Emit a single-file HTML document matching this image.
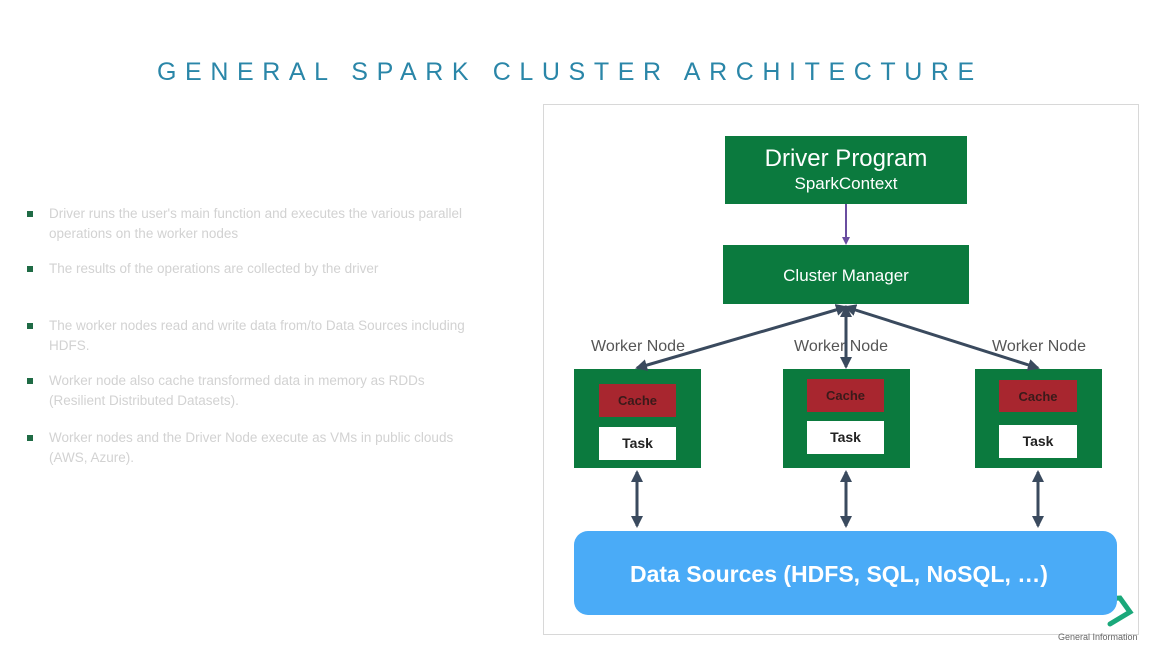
<!DOCTYPE html>
<html><head><meta charset="utf-8"><style>
body{margin:0;width:1152px;height:648px;background:#fff;position:relative;overflow:hidden;font-family:"Liberation Sans",sans-serif}
.a{position:absolute}
.t{position:absolute;left:157px;top:58px;white-space:nowrap;font-size:25px;letter-spacing:8.6px;color:#2a86a8;font-weight:300}
.b{position:absolute;left:27px;width:6px;height:6px;background:#1f6b45}
.bt{position:absolute;left:49px;width:430px;font-size:13.5px;line-height:20px;color:#d2d2d2}
.g{background:#0b7a3e;color:#fff;text-align:center}
.c{background:#a8262f;color:#3a1a1a;font-weight:bold;font-size:13px;text-align:center;line-height:33px}
.k{background:#fff;color:#222;font-weight:bold;font-size:14px;text-align:center;line-height:33px}
.w{font-size:16px;color:#555;width:140px;text-align:center}
</style></head><body>
<div class="t">GENERAL SPARK CLUSTER ARCHITECTURE</div>
<div class="b" style="top:211px"></div><div class="bt" style="top:204px">Driver runs the user's main function and executes the various parallel operations on the worker nodes</div>
<div class="b" style="top:266px"></div><div class="bt" style="top:259px">The results of the operations are collected by the driver</div>
<div class="b" style="top:323px"></div><div class="bt" style="top:316px">The worker nodes read and write data from/to Data Sources including HDFS.</div>
<div class="b" style="top:378px"></div><div class="bt" style="top:371px">Worker node also cache transformed data in memory as RDDs (Resilient Distributed Datasets).</div>
<div class="b" style="top:435px"></div><div class="bt" style="top:428px">Worker nodes and the Driver Node execute as VMs in public clouds (AWS, Azure).</div>

<div class="a" style="left:543px;top:104px;width:594px;height:529px;border:1px solid #d8d8d8"></div>
<div class="a g" style="left:725px;top:136px;width:242px;height:68px"><div style="font-size:24px;margin-top:9px">Driver Program</div><div style="font-size:17px;margin-top:1px">SparkContext</div></div>
<div class="a g" style="left:723px;top:245px;width:246px;height:59px;font-size:17px;line-height:62px">Cluster Manager</div>
<div class="a w" style="left:568px;top:338px">Worker Node</div>
<div class="a w" style="left:771px;top:338px">Worker Node</div>
<div class="a w" style="left:969px;top:338px">Worker Node</div>

<div class="a g" style="left:574px;top:369px;width:127px;height:99px"></div>
<div class="a c" style="left:599px;top:384px;width:77px;height:33px">Cache</div>
<div class="a k" style="left:599px;top:427px;width:77px;height:33px">Task</div>
<div class="a g" style="left:783px;top:369px;width:127px;height:99px"></div>
<div class="a c" style="left:807px;top:379px;width:77px;height:33px">Cache</div>
<div class="a k" style="left:807px;top:421px;width:77px;height:33px">Task</div>
<div class="a g" style="left:975px;top:369px;width:127px;height:99px"></div>
<div class="a c" style="left:999px;top:380px;width:78px;height:32px">Cache</div>
<div class="a k" style="left:999px;top:425px;width:78px;height:33px">Task</div>

<svg class="a" style="left:0;top:0" width="1152" height="648">
<defs><marker id="m" markerWidth="12" markerHeight="12" refX="10" refY="6" orient="auto-start-reverse" markerUnits="userSpaceOnUse"><path d="M0,0L12,6L0,12z" fill="#3a4a5e"/></marker>
<marker id="p" markerWidth="8" markerHeight="8" refX="6" refY="4" orient="auto" markerUnits="userSpaceOnUse"><path d="M0,0L8,4L0,8z" fill="#6a4ea0"/></marker></defs>
<line x1="846" y1="204" x2="846" y2="243" stroke="#6a4ea0" stroke-width="2" marker-end="url(#p)"/>
<g stroke="#3a4a5e" stroke-width="3" marker-start="url(#m)" marker-end="url(#m)">
<line x1="846" y1="307" x2="637" y2="368"/>
<line x1="846" y1="307" x2="846" y2="367"/>
<line x1="846" y1="307" x2="1038" y2="368"/>
<line x1="637" y1="472" x2="637" y2="526"/>
<line x1="846" y1="472" x2="846" y2="526"/>
<line x1="1038" y1="472" x2="1038" y2="526"/>
</g>
<path d="M1075,600 L1120,598 L1130,612 L1110,624" fill="none" stroke="#1aa87a" stroke-width="5" stroke-linecap="round"/>
</svg>
<div class="a" style="left:574px;top:531px;width:543px;height:84px;background:#4aabf7;border-radius:14px;color:#fff;font-weight:bold;font-size:23px;line-height:86px;text-indent:56px;white-space:nowrap">Data Sources (HDFS, SQL, NoSQL, …)</div>
<div class="a" style="left:1058px;top:632px;font-size:9px;color:#666">General Information</div>
</body></html>
